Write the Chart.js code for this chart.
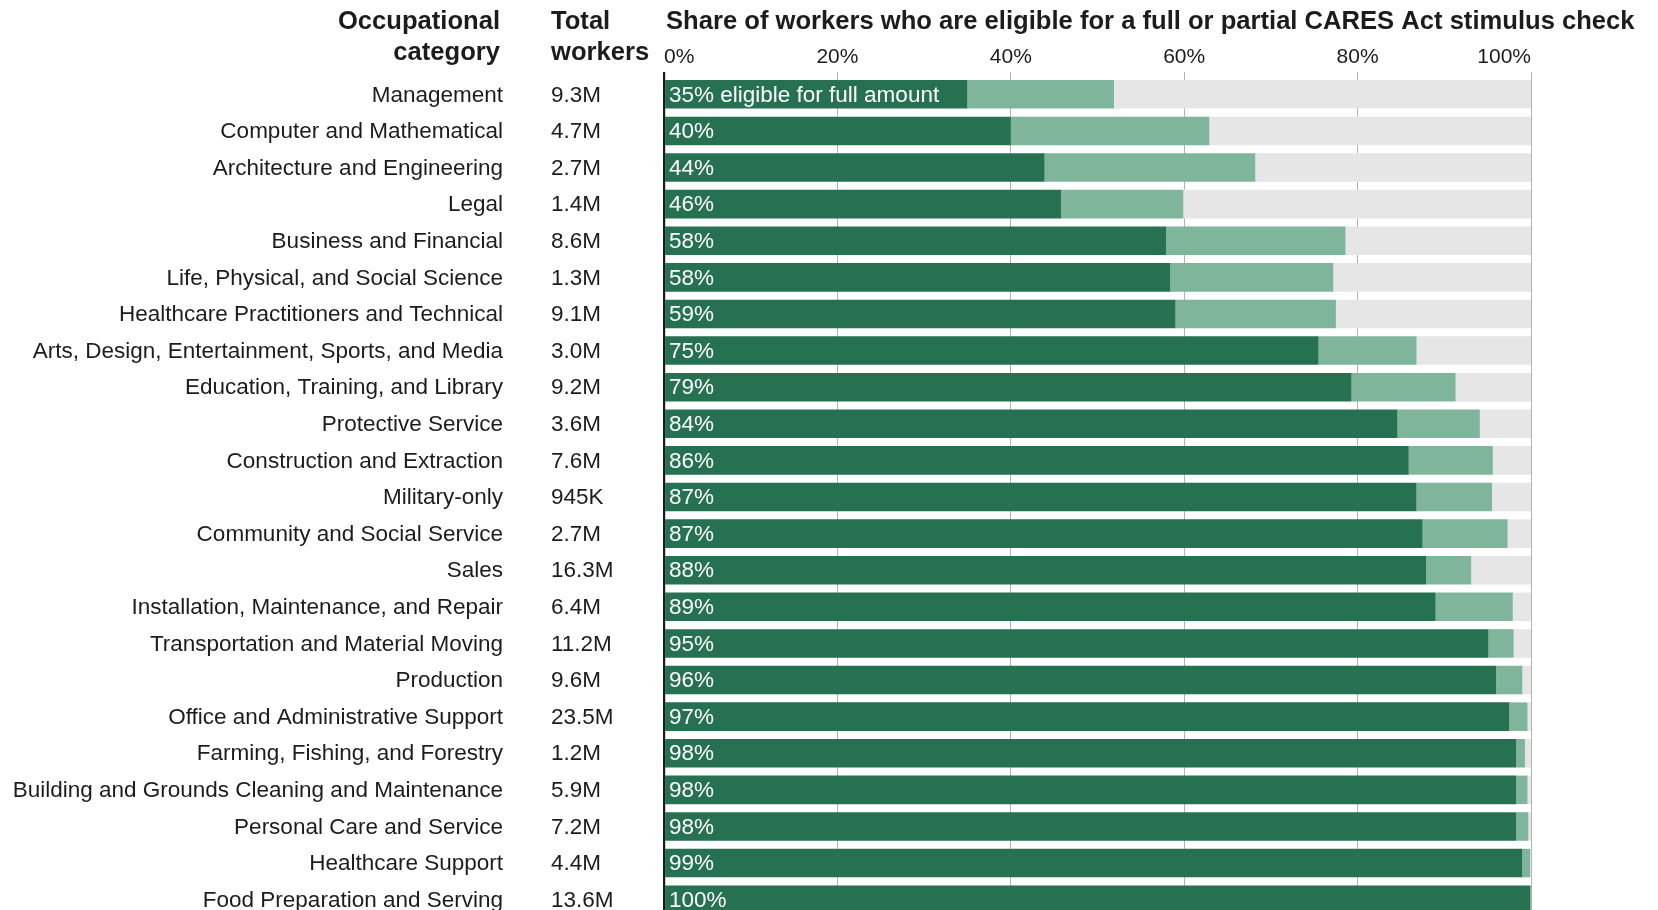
<!DOCTYPE html>
<html>
<head>
<meta charset="utf-8">
<script src="https://cdn.jsdelivr.net/npm/chart.js@4.4.1/dist/chart.umd.min.js"></script>
<style>
  html, body { margin: 0; padding: 0; background: #fff; overflow: hidden; }
  #wrap { width: 1658px; height: 918px; position: relative; }
</style>
</head>
<body>
<div id="wrap"><canvas id="chart"></canvas></div>
<script>
const FONT = '"Liberation Sans", Arial, Helvetica, sans-serif';

const chartTitle = 'Share of workers who are eligible for a full or partial CARES Act stimulus check';
const categoryHeader = ['Occupational', 'category'];
const totalHeader = ['Total', 'workers'];

const categories = [
  'Management',
  'Computer and Mathematical',
  'Architecture and Engineering',
  'Legal',
  'Business and Financial',
  'Life, Physical, and Social Science',
  'Healthcare Practitioners and Technical',
  'Arts, Design, Entertainment, Sports, and Media',
  'Education, Training, and Library',
  'Protective Service',
  'Construction and Extraction',
  'Military-only',
  'Community and Social Service',
  'Sales',
  'Installation, Maintenance, and Repair',
  'Transportation and Material Moving',
  'Production',
  'Office and Administrative Support',
  'Farming, Fishing, and Forestry',
  'Building and Grounds Cleaning and Maintenance',
  'Personal Care and Service',
  'Healthcare Support',
  'Food Preparation and Serving'
];

const totalWorkers = [
  '9.3M', '4.7M', '2.7M', '1.4M', '8.6M', '1.3M', '9.1M', '3.0M', '9.2M', '3.6M', '7.6M', '945K',
  '2.7M', '16.3M', '6.4M', '11.2M', '9.6M', '23.5M', '1.2M', '5.9M', '7.2M', '4.4M', '13.6M'
];

// share eligible for the full amount (dark bar)
const fullShare = [
  35.0, 40.0, 43.9, 45.8, 57.9, 58.4, 59.0, 75.5, 79.3, 84.6, 85.9, 86.8,
  87.5, 87.9, 89.0, 95.1, 96.0, 97.5, 98.3, 98.3, 98.3, 99.0, 99.9
];

// share eligible for full or partial amount (end of light bar)
const anyShare = [
  51.9, 62.9, 68.2, 59.9, 78.6, 77.2, 77.5, 86.8, 91.3, 94.1, 95.6, 95.5,
  97.3, 93.1, 97.9, 98.0, 99.0, 99.6, 99.3, 99.6, 99.7, 99.9, 100
];

const barLabels = [
  '35% eligible for full amount', '40%', '44%', '46%', '58%', '58%', '59%', '75%', '79%', '84%', '86%', '87%',
  '87%', '88%', '89%', '95%', '96%', '97%', '98%', '98%', '98%', '99%', '100%'
];

const xTicks = [0, 20, 40, 60, 80, 100];

const partialShare = anyShare.map((v, i) => v - fullShare[i]);
const notEligible = anyShare.map((v) => 100 - v);

const barLabelPlugin = {
  id: 'barLabels',
  afterDatasetsDraw(chart) {
    const { ctx, chartArea } = chart;
    const meta = chart.getDatasetMeta(0);
    ctx.save();
    ctx.font = `22.5px ${FONT}`;
    ctx.fillStyle = '#ffffff';
    ctx.textAlign = 'left';
    ctx.textBaseline = 'middle';
    meta.data.forEach((bar, i) => {
      ctx.fillText(barLabels[i], chartArea.left + 5, bar.y + 1);
    });
    ctx.restore();
  }
};

const textColumns = {
  id: 'textColumns',
  afterDraw(chart) {
    const { ctx } = chart;
    const yScale = chart.scales.y;
    ctx.save();
    ctx.fillStyle = '#1c1c1c';
    ctx.textBaseline = 'middle';

    ctx.font = `bold 25.6px ${FONT}`;
    ctx.textAlign = 'right';
    categoryHeader.forEach((line, i) => ctx.fillText(line, 500, 22 + i * 31));
    ctx.textAlign = 'left';
    totalHeader.forEach((line, i) => ctx.fillText(line, 551, 22 + i * 31));
    ctx.fillText(chartTitle, 666, 22);

    ctx.font = `22.5px ${FONT}`;
    totalWorkers.forEach((label, i) => {
      ctx.fillText(label, 551, yScale.getPixelForValue(i) + 1);
    });
    ctx.restore();
  }
};

new Chart(document.getElementById('chart'), {
  type: 'bar',
  data: {
    labels: categories,
    datasets: [
      { label: 'Full amount', data: fullShare, backgroundColor: '#277153' },
      { label: 'Partial amount', data: partialShare, backgroundColor: '#7fb59b' },
      { label: 'Not eligible', data: notEligible, backgroundColor: '#e5e6e5' }
    ]
  },
  options: {
    indexAxis: 'y',
    responsive: true,
    maintainAspectRatio: false,
    animation: false,
    layout: { padding: { left: 0, right: 127, top: 0, bottom: 0 } },
    datasets: {
      bar: { barPercentage: 0.78, categoryPercentage: 1, borderWidth: 0 }
    },
    plugins: {
      legend: { display: false },
      tooltip: { enabled: false }
    },
    scales: {
      x: {
        position: 'top',
        stacked: true,
        min: 0,
        max: 100,
        z: 1,
        afterBuildTicks: (scale) => {
          scale.ticks = xTicks.map((value) => ({ value }));
        },
        afterFit: (scale) => {
          scale.height = 76;
        },
        border: { display: false },
        grid: {
          drawTicks: true,
          tickLength: 4,
          color: (ctx) => (ctx.tick && ctx.tick.value === 0 ? '#1a1a1a' : 'rgba(0,0,0,0.3)'),
          lineWidth: (ctx) => (ctx.tick && ctx.tick.value === 0 ? 2.2 : 1)
        },
        ticks: {
          align: 'inner',
          padding: 2,
          color: '#1c1c1c',
          font: { family: FONT, size: 21 },
          callback: (value) => `${value}%`
        }
      },
      y: {
        stacked: true,
        afterFit: (scale) => {
          // label gap is done with tick padding; keep it from eating vertical room
          scale.width = 664;
          scale.paddingTop = 0;
          scale.paddingBottom = 0;
        },
        border: { display: false },
        grid: { display: false, drawTicks: false },
        ticks: {
          padding: 161,
          labelOffset: 1,
          color: '#1c1c1c',
          font: { family: FONT, size: 22.5 }
        }
      }
    }
  },
  plugins: [barLabelPlugin, textColumns]
});
</script>
</body>
</html>
